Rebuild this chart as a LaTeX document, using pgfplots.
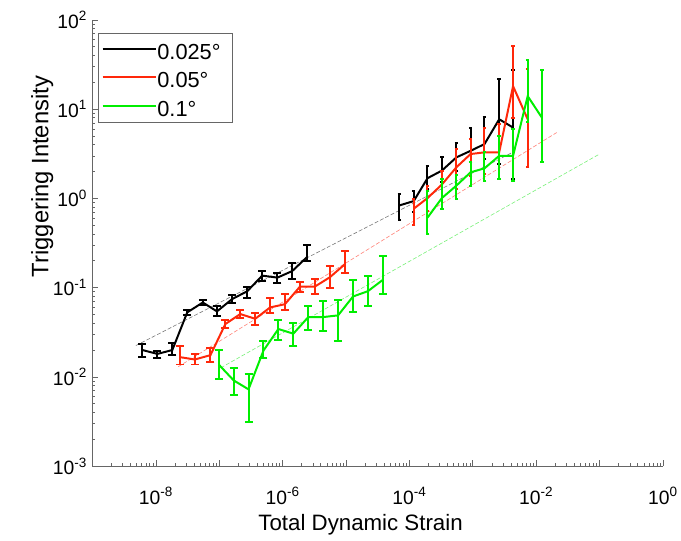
\documentclass[border=0pt]{standalone}
\usepackage{fontspec}
\setmainfont{Liberation Sans}
\usepackage{pgfplots}
\pgfplotsset{compat=1.18}
\usepackage{pgfplotstable}
\definecolor{mred}{RGB}{255,40,10}
\definecolor{mgreen}{RGB}{0,238,0}
\definecolor{fgray}{RGB}{120,120,120}
\definecolor{fred}{RGB}{255,130,120}
\definecolor{fgreen}{RGB}{120,240,120}

\pgfplotstableread{
x y ep em
6.15e-9 0.0200 0.0036 0.0032
1.06e-8 0.0181 0.0013 0.0017
1.82e-8 0.0200 0.0040 0.0023
3.13e-8 0.0528 0.0037 0.0031
5.51e-8 0.0682 0.0047 0.0050
9.22e-8 0.0542 0.0074 0.0065
1.59e-7 0.0743 0.0074 0.0073
2.77e-7 0.0912 0.0111 0.0150
4.77e-7 0.1364 0.0171 0.0176
8.28e-7 0.1295 0.0151 0.0155
1.42e-6 0.1535 0.0336 0.0285
2.44e-6 0.2208 0.0835 0.0213
}\blackA
\pgfplotstableread{
x y ep em
6.95e-5 0.834 0.291 0.267
1.17e-4 0.933 0.292 0.223
1.93e-4 1.683 0.637 0.403
3.25e-4 2.047 0.833 0.527
5.51e-4 2.88 1.25 0.83
9.23e-4 3.41 2.66 0.85
1.53e-3 4.06 4.11 1.30
2.61e-3 7.70 14.2 5.3
4.32e-3 6.22 21.0 4.57
}\blackB
\pgfplotstableread{
x y ep em
2.38e-8 0.01667 0.0056 0.0029
4.13e-8 0.01567 0.0024 0.0019
7.28e-8 0.01754 0.0036 0.0028
1.25e-7 0.0391 0.0046 0.0038
2.15e-7 0.0506 0.0059 0.0050
3.70e-7 0.0448 0.0071 0.0069
6.35e-7 0.0600 0.0162 0.0081
1.09e-6 0.0653 0.0192 0.0088
1.88e-6 0.1028 0.0142 0.0139
3.23e-6 0.1028 0.0222 0.0183
5.55e-6 0.1306 0.0439 0.0322
9.55e-6 0.1822 0.0741 0.0376
}\redA
\pgfplotstableread{
x y ep em
1.17e-4 0.766 0.224 0.267
1.93e-4 1.007 0.383 0.279
3.25e-4 1.428 0.622 0.662
5.51e-4 2.23 1.33 0.95
9.23e-4 3.14 1.47 1.34
1.53e-3 3.28 2.79 1.40
2.61e-3 3.28 3.50 1.63
4.32e-3 18.1 33.2 10.2
7.35e-3 7.70 20.6 5.47
}\redB
\pgfplotstableread{
x y ep em
9.82e-8 0.01377 0.0062 0.0042
1.69e-7 0.00914 0.0035 0.0028
2.90e-7 0.00726 0.0036 0.0041
4.99e-7 0.01972 0.0056 0.0034
8.57e-7 0.0344 0.0093 0.0082
1.48e-6 0.0305 0.0097 0.0082
2.54e-6 0.0468 0.0153 0.0130
4.36e-6 0.0468 0.0238 0.0141
7.50e-6 0.0489 0.0240 0.0238
1.29e-5 0.0796 0.0412 0.0264
2.21e-5 0.0912 0.0428 0.0291
3.80e-5 0.1219 0.1020 0.0374
}\greenA
\pgfplotstableread{
x y ep em
1.93e-4 0.608 0.617 0.204
3.25e-4 1.007 0.643 0.241
5.51e-4 1.39 0.44 0.40
9.23e-4 1.96 0.58 0.57
1.53e-3 2.17 1.11 0.59
2.61e-3 3.00 2.01 1.35
4.32e-3 3.00 2.96 1.42
7.35e-3 14.0 21.9 6.9
1.23e-2 8.04 19.2 5.46
}\greenB

\begin{document}
\begin{tikzpicture}
\begin{axis}[
  name=ax,
  xmode=log, ymode=log,
  scale only axis, width=574bp, height=449bp,
  xmin=1e-9, xmax=1, ymin=1e-3, ymax=1e2,
  axis x line*=bottom, axis y line*=left,
  axis line style={-, draw=black!60, line width=0.7pt},
  every tick/.style={draw=black!60, line width=0.6pt},
  tick align=inside,
  major tick length=6bp, minor tick length=3bp,
  xtick={1e-9,1e-8,1e-7,1e-6,1e-5,1e-4,1e-3,1e-2,1e-1,1},
  xticklabels={,10\textsuperscript{-8},,10\textsuperscript{-6},,10\textsuperscript{-4},,10\textsuperscript{-2},,10\textsuperscript{0}},
  ytick={1e-3,1e-2,1e-1,1,10,100},
  yticklabels={10\textsuperscript{-3},10\textsuperscript{-2},10\textsuperscript{-1},10\textsuperscript{0},10\textsuperscript{1},10\textsuperscript{2}},
  tick label style={font=\fontsize{19.5}{22}\selectfont},
  xticklabel style={yshift=-18bp},
  yticklabel style={xshift=-2bp},
  xlabel={Total Dynamic Strain},
  ylabel={Triggering Intensity},
  xlabel style={font=\fontsize{22.5}{26}\selectfont, at={(axis description cs:0.47,-0.132)}, anchor=center},
  ylabel style={font=\fontsize{24}{28}\selectfont, at={(axis description cs:-0.088,0.649)}, anchor=center},
  legend style={at={(axis description cs:0.0105,0.987)}, anchor=north west, yshift=-7bp,
    draw=black!60, line width=0.6pt, font=\fontsize{22}{26}\selectfont,
    inner xsep=3bp, inner ysep=6bp, row sep=7.3bp,
    nodes={inner sep=0pt, text height=21bp, text depth=0bp}},
  legend cell align=left,
  legend image code/.code={\draw[#1, line width=2pt] (9bp,0bp) -- (50bp,0bp); \path (0bp,0bp) -- (54bp,0bp);},
  error bars/y dir=both, error bars/y explicit,
  clip=false,
]
% fitted trends
\addplot[forget plot, fgray, line width=0.6pt, dash pattern=on 4bp off 2bp] coordinates {(4.85e-9,0.02244) (4.32e-3,3.30)};
\addplot[forget plot, fred, line width=0.6pt, dash pattern=on 4bp off 2bp] coordinates {(2.26e-8,0.0130) (2.11e-2,5.47)};
\addplot[forget plot, fgreen, line width=0.6pt, dash pattern=on 4bp off 2bp] coordinates {(1.06e-7,0.01265) (1e-1,3.14)};
% series
\addplot[black, line width=2pt, mark=none,
  error bars/error bar style={line width=2pt},
  error bars/error mark options={rotate=90, mark size=4bp, line width=2pt}]
  table[x=x, y=y, y error plus=ep, y error minus=em] {\blackA};
\addlegendentry{0.025°\rule{9bp}{0pt}}
\addplot[mred, line width=2pt, mark=none,
  error bars/error bar style={line width=2pt},
  error bars/error mark options={rotate=90, mark size=4bp, line width=2pt}]
  table[x=x, y=y, y error plus=ep, y error minus=em] {\redA};
\addlegendentry{0.05°}
\addplot[mgreen, line width=2pt, mark=none,
  error bars/error bar style={line width=2pt},
  error bars/error mark options={rotate=90, mark size=4bp, line width=2pt}]
  table[x=x, y=y, y error plus=ep, y error minus=em] {\greenA};
\addlegendentry{0.1°}
\addplot[forget plot, black, line width=2pt, mark=none,
  error bars/error bar style={line width=2pt},
  error bars/error mark options={rotate=90, mark size=1.8bp, line width=2pt}]
  table[x=x, y=y, y error plus=ep, y error minus=em] {\blackB};
\addplot[forget plot, mred, line width=2pt, mark=none,
  error bars/error bar style={line width=2pt},
  error bars/error mark options={rotate=90, mark size=1.8bp, line width=2pt}]
  table[x=x, y=y, y error plus=ep, y error minus=em] {\redB};
\addplot[forget plot, mgreen, line width=2pt, mark=none,
  error bars/error bar style={line width=2pt},
  error bars/error mark options={rotate=90, mark size=1.8bp, line width=2pt}]
  table[x=x, y=y, y error plus=ep, y error minus=em] {\greenB};
\end{axis}
\path (ax.south west) ++(-93bp,-75bp) rectangle ++(681bp,544bp);
\end{tikzpicture}
\end{document}
